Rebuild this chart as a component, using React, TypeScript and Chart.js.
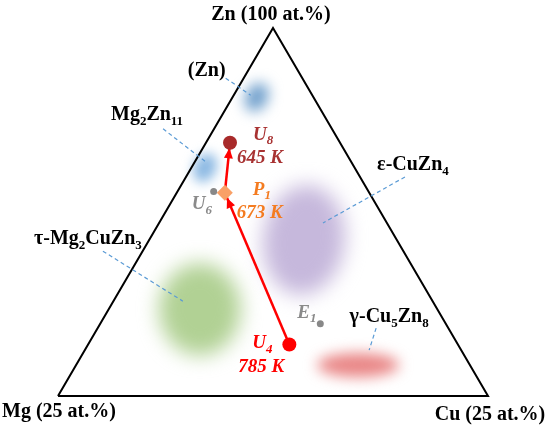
import React, { useEffect, useRef } from "react";
import { Chart, registerables } from "chart.js";
Chart.register(...registerables);

// ---- DATA (compositions in at.%; Zn is the balance) ----
const vertexNames = ["Zn (100 at.%)", "Mg (25 at.%)", "Cu (25 at.%)"];
const vertexMg = [0, 25, 0];
const vertexCu = [0, 0, 25];

const phaseNames = ["(Zn)", "Mg2Zn11", "ε-CuZn4", "τ-Mg2CuZn3", "γ-Cu5Zn8"];
const phaseMg = [3.3, 8.7, 5.4, 13.8, 6.5];
const phaseCu = [1.4, 0.8, 9.0, 5.3, 16.4];

const pointNames = ["U8", "P1", "U6", "U4", "E1"];
const pointTemps = ["645 K", "673 K", "", "785 K", ""];
const pointMg = [6.4, 8.4, 9.0, 9.8, 7.3];
const pointCu = [1.4, 2.8, 2.1, 11.7, 12.8];

// reaction path arrows (from -> to)
const arrowFrom = ["U4", "P1"];
const arrowTo = ["P1", "U8"];

// ---- STYLES / LAYOUT ----
const phaseStyles = [
  { color: "#6f9fcc", rx: 11, ry: 15, rot: 0.5, blur: 7, lx: -50, ly: -21, leader: [-31, -19, -6, -2] },
  { color: "#8cb9e3", rx: 11, ry: 15, rot: 0.45, blur: 6, lx: -58, ly: -48, leader: [-42, -39, 2, -5] },
  { color: "#c6b8dc", rx: 41, ry: 55, rot: 0.12, blur: 10, lx: 109, ly: -70, leader: [101, -63, 19, -17] },
  { color: "#b1d194", rx: 41, ry: 46, rot: 0, blur: 10, lx: -112, ly: -65, leader: [-97, -58, -17, -8] },
  { color: "#e98686", rx: 41, ry: 12, rot: 0, blur: 7, lx: 31, ly: -43, leader: [18, -37, 11, -15] },
];

const pointStyles = [
  { fill: "#a82a2a", r: 7, shape: "circle", text: "#a83232", nx: 23, ny: -3, tx: 7, ty: 20 },
  { fill: "#f9a066", r: 8, shape: "rectRot", text: "#f47b20", nx: 28, ny: 2, tx: 12, ty: 25 },
  { fill: "#888888", r: 3.5, shape: "circle", text: "#8a8a8a", nx: -22, ny: 18, tx: 0, ty: 0 },
  { fill: "#ff0000", r: 7, shape: "circle", text: "#ff0000", nx: -37, ny: 4, tx: -51, ty: 28 },
  { fill: "#888888", r: 3.5, shape: "circle", text: "#8a8a8a", nx: -23, ny: -6, tx: 0, ty: 0 },
];

const vertexLabelOffsets = [
  [-2, -8],
  [1, 21],
  [2, 24],
];

const FONT = '"Liberation Serif", "Times New Roman", serif';

function toXY(mg: number, cu: number) {
  const a = mg / 25;
  const b = cu / 25;
  const c = 1 - a - b;
  return { x: b + c / 2, y: c };
}

function parseSubs(s: string) {
  const segs: { t: string; sub: boolean }[] = [];
  for (let i = 0; i < s.length; i++) {
    const ch = s[i];
    const isDigit = /[0-9]/.test(ch);
    const prev = i > 0 ? s[i - 1] : "";
    const prevSeg = segs[segs.length - 1];
    const sub = isDigit && (/[A-Za-z]/.test(prev) || (prevSeg && prevSeg.sub && /[0-9]/.test(prev)));
    if (prevSeg && prevSeg.sub === !!sub) prevSeg.t += ch;
    else segs.push({ t: ch, sub: !!sub });
  }
  return segs;
}

function drawRich(
  ctx: CanvasRenderingContext2D,
  text: string,
  x: number,
  y: number,
  align: "left" | "center" | "right",
  size: number,
  color: string,
  italic: boolean,
  subs: boolean
) {
  const segs = subs ? parseSubs(text) : [{ t: text, sub: false }];
  const main = `${italic ? "italic " : ""}bold ${size}px ${FONT}`;
  const small = `${italic ? "italic " : ""}bold ${Math.round(size * 0.66)}px ${FONT}`;
  let w = 0;
  const widths: number[] = [];
  for (const s of segs) {
    ctx.font = s.sub ? small : main;
    const m = ctx.measureText(s.t).width;
    widths.push(m);
    w += m;
  }
  let cx = align === "left" ? x : align === "center" ? x - w / 2 : x - w;
  ctx.fillStyle = color;
  ctx.textAlign = "left";
  ctx.textBaseline = "alphabetic";
  segs.forEach((s, i) => {
    ctx.font = s.sub ? small : main;
    ctx.fillText(s.t, cx, s.sub ? y + size * 0.24 : y);
    cx += widths[i];
  });
}

export default function App() {
  const ref = useRef<HTMLCanvasElement | null>(null);

  useEffect(() => {
    if (!ref.current) return;
    const pix = (chart: any, mg: number, cu: number) => {
      const p = toXY(mg, cu);
      return [chart.scales.x.getPixelForValue(p.x), chart.scales.y.getPixelForValue(p.y)];
    };
    const idx = (n: string) => pointNames.indexOf(n);

    const triangle = [1, 2, 0, 1].map((i) => toXY(vertexMg[i], vertexCu[i]));
    const arrowSets = arrowFrom.map((f, k) => {
      const a = idx(f);
      const b = idx(arrowTo[k]);
      return {
        label: "arrow" + k,
        data: [toXY(pointMg[a], pointCu[a]), toXY(pointMg[b], pointCu[b])],
        showLine: true,
        borderColor: "#ff0000",
        borderWidth: 2.5,
        pointRadius: 0,
        order: 1,
      };
    });

    const plugin = {
      id: "ternaryDecor",
      beforeDatasetsDraw(chart: any) {
        const ctx: CanvasRenderingContext2D = chart.ctx;
        phaseNames.forEach((_, i) => {
          const st = phaseStyles[i];
          const [x, y] = pix(chart, phaseMg[i], phaseCu[i]);
          ctx.save();
          ctx.filter = `blur(${st.blur}px)`;
          ctx.fillStyle = st.color;
          ctx.beginPath();
          ctx.ellipse(x, y, st.rx, st.ry, st.rot, 0, Math.PI * 2);
          ctx.fill();
          ctx.restore();
        });
      },
      afterDatasetDraw(chart: any, args: any) {
        const ds = chart.data.datasets[args.index];
        if (!ds.label || !String(ds.label).startsWith("arrow")) return;
        const k = Number(String(ds.label).slice(5));
        const a = idx(arrowFrom[k]);
        const b = idx(arrowTo[k]);
        const [x0, y0] = pix(chart, pointMg[a], pointCu[a]);
        const [x1, y1] = pix(chart, pointMg[b], pointCu[b]);
        const len = Math.hypot(x1 - x0, y1 - y0);
        const ux = (x1 - x0) / len;
        const uy = (y1 - y0) / len;
        const gap = 5.5;
        const tx = x1 - ux * gap;
        const ty = y1 - uy * gap;
        const hl = 10;
        const hw = 4.5;
        const bx = tx - ux * hl;
        const by = ty - uy * hl;
        const ctx: CanvasRenderingContext2D = chart.ctx;
        ctx.save();
        ctx.fillStyle = "#ff0000";
        ctx.beginPath();
        ctx.moveTo(tx, ty);
        ctx.lineTo(bx - uy * hw, by + ux * hw);
        ctx.lineTo(bx + uy * hw, by - ux * hw);
        ctx.closePath();
        ctx.fill();
        ctx.restore();
      },
      afterDatasetsDraw(chart: any) {
        const ctx: CanvasRenderingContext2D = chart.ctx;
        // leader lines
        phaseNames.forEach((_, i) => {
          const st = phaseStyles[i];
          const [x, y] = pix(chart, phaseMg[i], phaseCu[i]);
          const [sx, sy, ex, ey] = st.leader;
          ctx.save();
          ctx.strokeStyle = "#5b9bd5";
          ctx.lineWidth = 1.2;
          ctx.setLineDash([4, 3]);
          ctx.beginPath();
          ctx.moveTo(x + sx, y + sy);
          ctx.lineTo(x + ex, y + ey);
          ctx.stroke();
          ctx.restore();
          drawRich(ctx, phaseNames[i], x + st.lx, y + st.ly, "center", 20, "#000", false, true);
        });
        // vertex labels
        vertexNames.forEach((n, i) => {
          const [x, y] = pix(chart, vertexMg[i], vertexCu[i]);
          const [dx, dy] = vertexLabelOffsets[i];
          drawRich(ctx, n, x + dx, y + dy, "center", 20, "#000", false, false);
        });
        // point labels
        pointNames.forEach((n, i) => {
          const st = pointStyles[i];
          const [x, y] = pix(chart, pointMg[i], pointCu[i]);
          drawRich(ctx, n, x + st.nx, y + st.ny, "left", 19, st.text, true, true);
          if (pointTemps[i]) drawRich(ctx, pointTemps[i], x + st.tx, y + st.ty, "left", 19, st.text, true, false);
        });
      },
    };

    const chart = new Chart(ref.current, {
      type: "scatter",
      data: {
        datasets: [
          {
            label: "points",
            data: pointNames.map((_, i) => toXY(pointMg[i], pointCu[i])),
            pointBackgroundColor: pointStyles.map((s) => s.fill),
            pointBorderColor: pointStyles.map((s) => s.fill),
            pointRadius: pointStyles.map((s) => s.r),
            pointStyle: pointStyles.map((s) => s.shape) as any,
            borderWidth: 0,
            order: 0,
          },
          ...arrowSets,
          {
            label: "triangle",
            data: triangle,
            showLine: true,
            borderColor: "#000",
            borderWidth: 2,
            pointRadius: 0,
            order: 2,
          },
        ] as any,
      },
      options: {
        animation: false,
        responsive: false,
        events: [],
        layout: { padding: 0, autoPadding: false },
        plugins: { legend: { display: false }, tooltip: { enabled: false } },
        scales: {
          x: { type: "linear", min: -58 / 430, max: (550 - 58) / 430, display: false },
          y: { type: "linear", min: -(427 - 396) / 368, max: 396 / 368, display: false },
        },
      },
      plugins: [plugin],
    });
    return () => chart.destroy();
  }, []);

  return (
    <div style={{ position: "absolute", left: 0, top: 0, width: 550, height: 427, background: "#fff" }}>
      <canvas ref={ref} width={550} height={427} />
    </div>
  );
}
